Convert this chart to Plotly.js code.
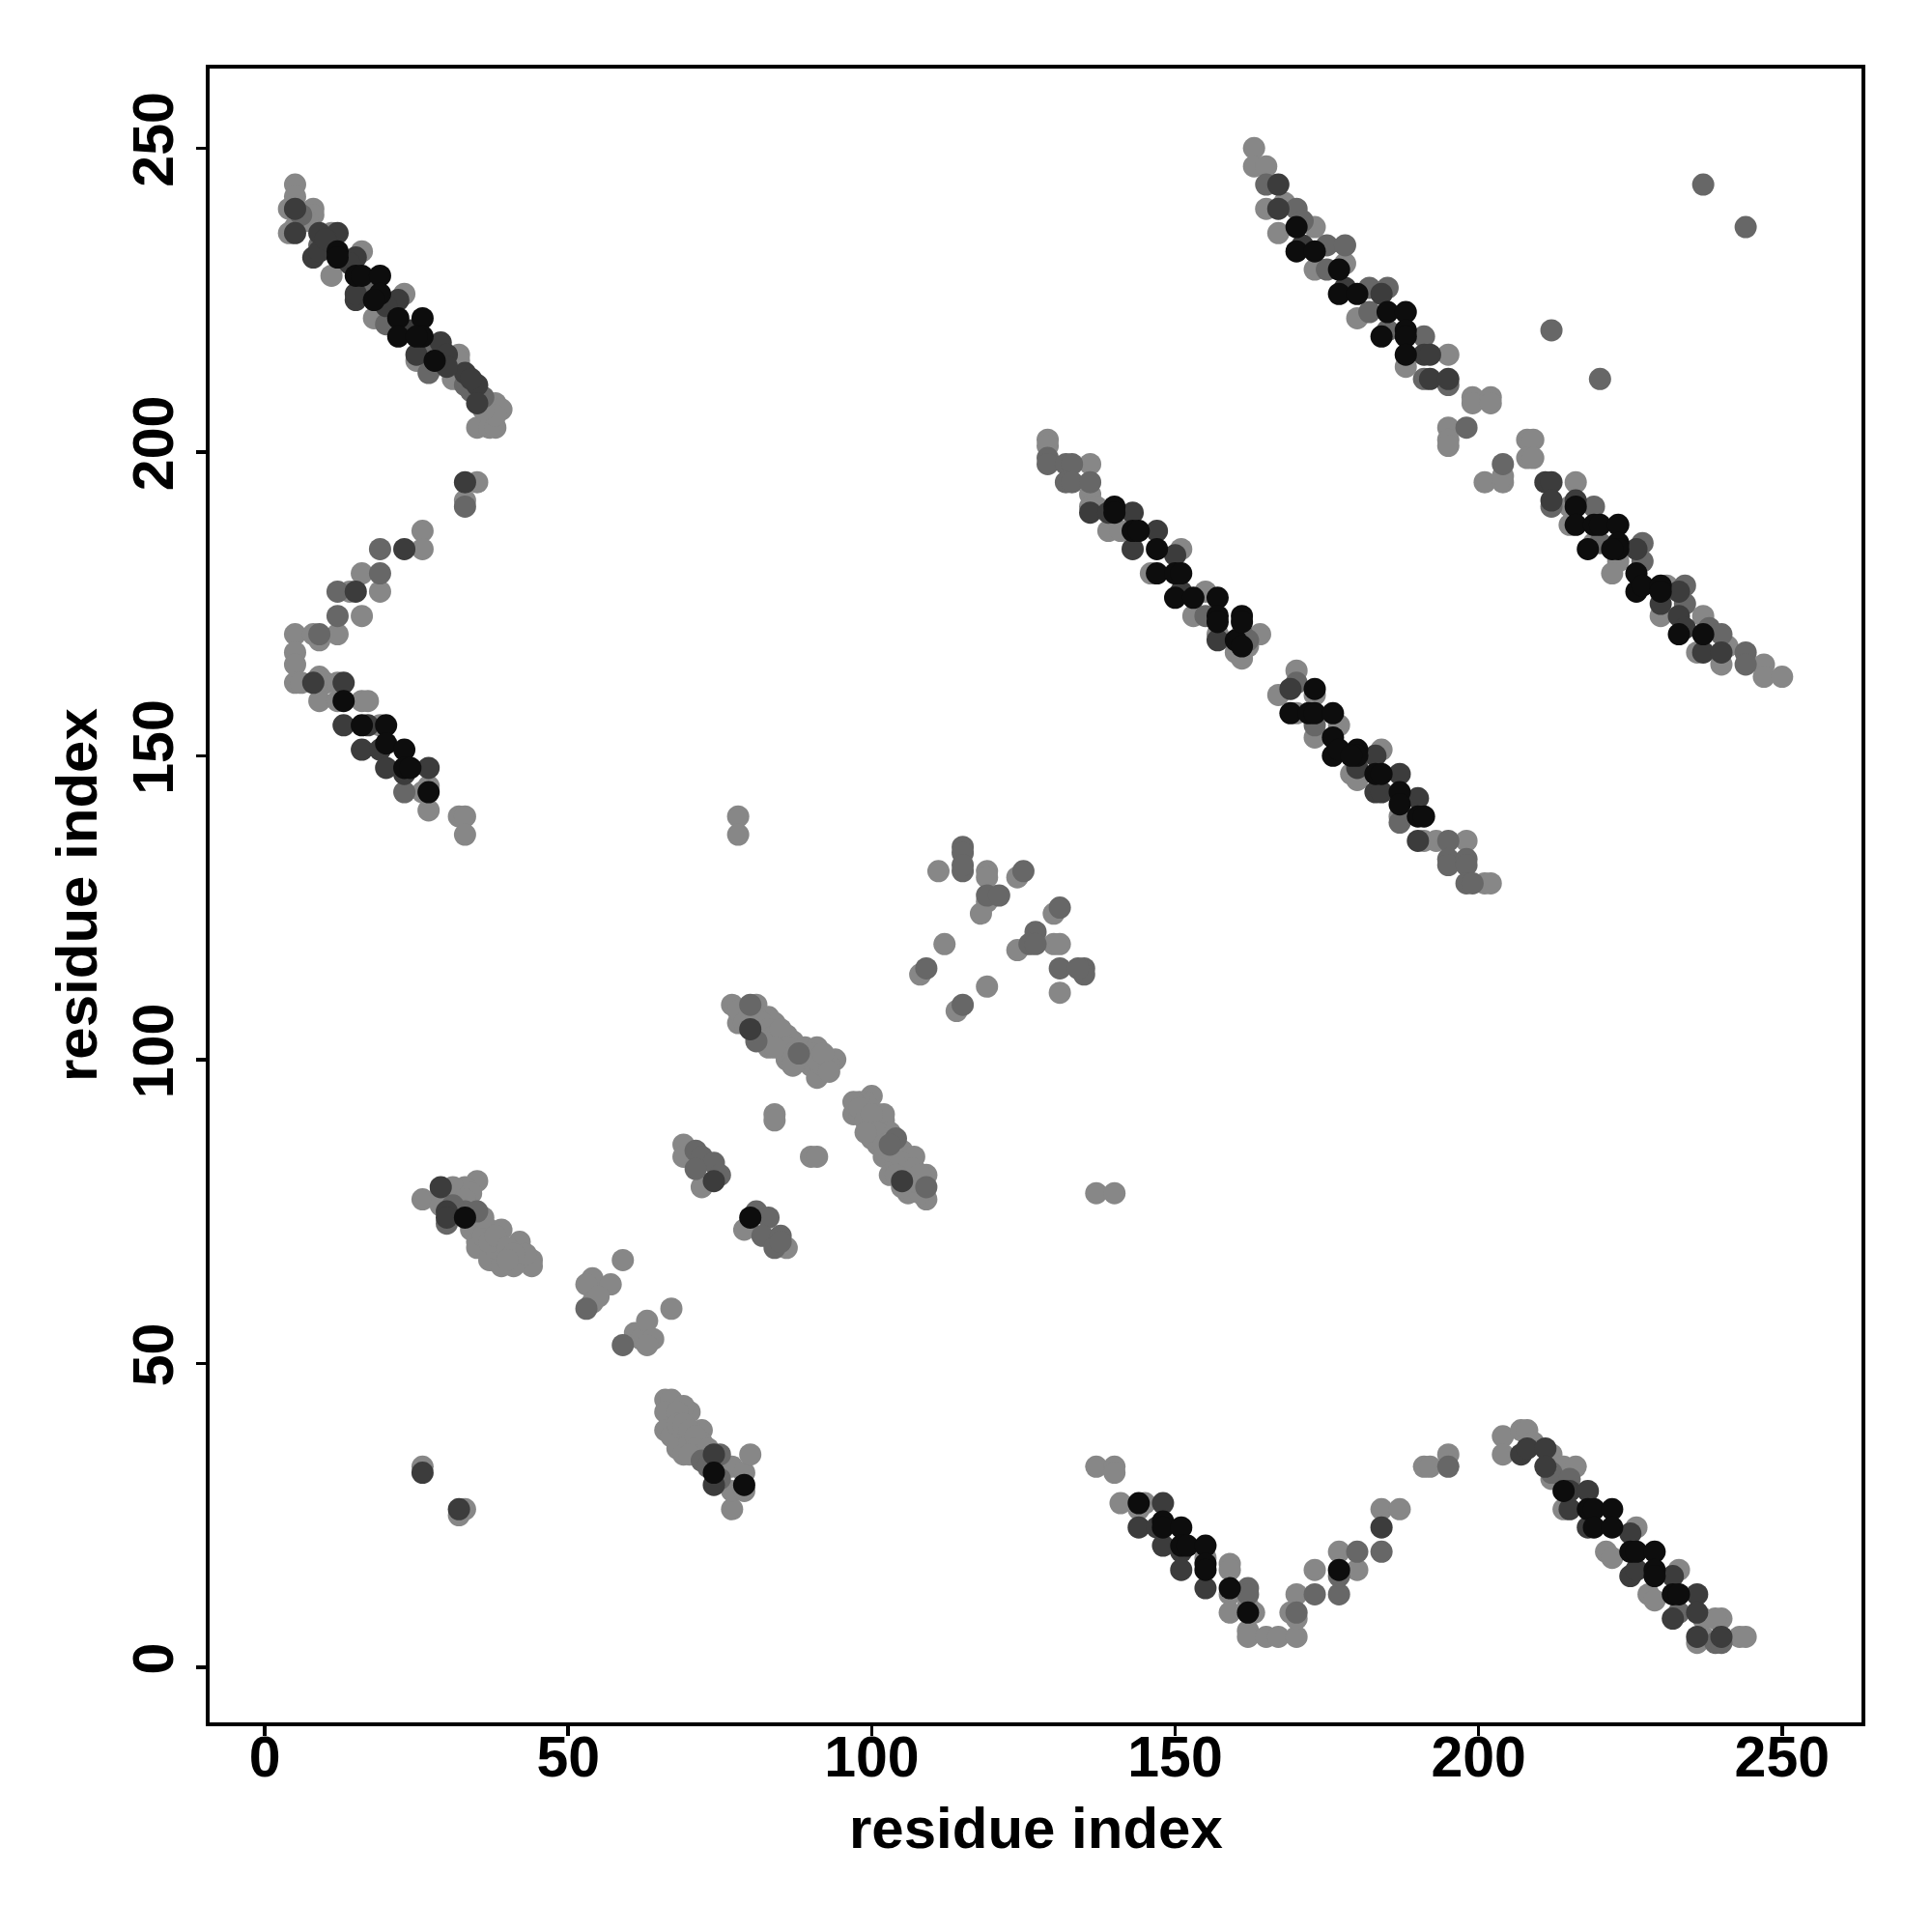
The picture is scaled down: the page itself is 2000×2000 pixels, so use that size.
<!DOCTYPE html>
<html>
<head>
<meta charset="utf-8">
<script src="https://cdn.plot.ly/plotly-3.0.1.min.js"></script>
<style>html,body{margin:0;padding:0;background:#fff;}#chart{width:2000px;height:2000px;}</style>
</head>
<body>
<div id="chart"></div>
<script>
// Contact map: residue index pairs, grouped by grey level
const axisTicks = [0, 50, 100, 150, 200, 250];
const axisTitle = "residue index";

const lightPts = [
 [5,244],[5,242],[4,240],[8,240],[8,239],[4,236],[5,237],[11,236],[16,233],[11,229],[23,226],[18,222],[25,215],[32,216],[32,215],[31,212],[38,208],[39,207],[35,204],[37,204],[38,204],[38,206],[7,238],[36,207],
 [35,195],[33,192],[26,187],[26,184],[16,180],[14,177],[19,177],[16,173],[5,170],[8,170],[12,170],[9,169],[5,167],[5,165],[5,162],[6,162],[9,163],[10,162],[12,162],[9,159],[12,159],[16,159],[17,159],[19,155],[26,144],[27,145],[27,141],[32,140],[33,140],[33,137],
 [163,250],[163,247],[165,247],[165,240],[168,241],[167,236],[173,237],[173,230],[178,231],[180,222],[188,214],[195,216],[199,209],[199,208],[202,209],[202,208],[195,204],[195,202],[195,201],[208,202],[209,202],[208,199],[209,199],[201,195],[204,195],[204,196],[216,195],
 [215,191],[215,188],[219,185],[223,182],[222,180],[231,178],[230,173],[237,173],[241,168],[236,167],[240,165],[247,165],[247,163],[250,163],
 [129,202],[129,201],[136,198],[136,193],[136,191],[137,191],[139,187],[141,187],[151,184],[146,180],[155,177],[153,173],[157,170],[164,170],[160,167],[162,168],[170,164],[167,160],[161,166],[170,157],[173,153],[177,155],[173,160],[184,151],[179,147],[180,146],[187,140],[191,136],[193,136],[198,136],[201,129],[202,129],
 [137,33],[140,33],[140,32],[141,27],[145,27],[144,26],[155,18],[159,17],[159,16],[159,12],[159,9],[163,9],[162,10],[162,6],[162,5],[165,5],[167,5],[170,5],[169,9],[170,8],[170,12],[173,16],[177,19],[180,16],[184,26],[187,26],[191,33],[192,33],[195,35],
 [204,38],[204,35],[207,39],[208,39],[209,37],[212,35],[212,31],[214,33],[216,33],[214,26],[226,23],[221,19],[222,18],[228,12],[229,11],[233,16],[237,8],[240,8],[239,8],[236,4],[237,5],[243,5],[244,5],
 [26,77],[29,78],[35,80],[33,79],[31,79],[34,78],[29,76],[34,72],[35,70],[35,69],[37,72],[39,72],[37,67],[39,66],[38,69],[42,70],[42,67],[44,67],[44,66],[41,66],[43,68],
 [32,76],[33,77],[36,73],[36,71],[37,70],[38,71],[40,69],[41,68],[40,67],[36,74],
 [54,64],[53,63],[57,63],[59,67],[54,60],[55,61],[61,55],[62,54],[63,57],[64,54],[67,59],[63,53],
 [69,86],[69,84],[72,79],[84,91],[84,90],[90,84],[91,84],[79,72],[86,69],
 [66,44],[67,44],[66,42],[70,42],[69,43],[66,39],[67,38],[68,36],[69,35],[70,37],[72,39],[72,37],[77,33],[77,26],[77,29],[79,32],[80,35],[79,29],
 [68,42],[68,40],[69,40],[70,39],[71,38],[71,36],[73,36],[70,35],
 [26,33],[33,26],[32,25],[137,78],[140,78],[78,140],[78,137],
 [77,109],[81,109],[78,106],[83,107],[84,106],[83,102],[86,104],[87,103],[88,102],[86,100],[89,102],[91,102],[90,99],[91,97],[92,99],[94,100],[93,99],[79,108],[80,107],[82,105],[85,103],[89,100],
 [78,108],[79,106],[80,106],[81,107],[82,106],[83,105],[84,104],[85,105],[86,102],[87,101],[88,100],[90,101],[91,100],[92,101],[93,98],[82,103],[84,102],[87,99],
 [100,94],[97,91],[99,93],[101,91],[102,90],[100,89],[100,87],[101,86],[102,84],[105,85],[106,84],[107,84],[103,81],[106,78],[109,81],[109,77],[108,78],[105,79],[98,93],[102,91],[103,88],[104,83],[107,80],[98,91],
 [97,93],[98,92],[99,90],[100,91],[101,88],[102,87],[103,85],[104,85],[105,83],[106,82],[107,82],[108,80],[106,80],[104,81],[102,86],[108,81],[99,88],
 [111,131],[119,131],[119,130],[124,130],[119,126],[118,124],[130,124],[112,119],[124,118],[130,119],[131,119],[108,114],[119,112],[131,111],[114,108]
];

const midPts = [
 [6,239],[9,234],[20,221],[27,213],[36,209],[34,210],[17,228],[27,217],[33,211],
 [19,184],[19,180],[12,177],[12,173],[9,170],[33,191],[23,144],
 [165,244],[170,240],[171,238],[175,234],[178,234],[175,230],[182,227],[185,227],[182,223],[185,220],[191,219],[195,211],[191,212],[198,204],[204,198],[212,220],[220,212],[237,244],[244,237],
 [212,191],[219,191],[220,185],[227,185],[227,182],[234,178],[234,175],[238,171],[240,170],[244,167],[244,165],
 [129,199],[129,198],[132,198],[133,198],[132,195],[133,195],[136,195],[155,173],[161,170],[162,169],[170,162],[173,155],[187,139],[195,136],[195,133],[195,132],[198,133],[198,132],[198,129],[199,129],
 [162,13],[162,12],[170,9],[173,12],[177,12],[177,15],[180,19],[184,19],[195,33],
 [212,32],[215,31],[233,9],[239,4],[240,4],
 [33,75],[35,75],[30,73],[31,76],[53,59],[59,53],
 [71,85],[72,84],[74,83],[75,81],[71,82],[81,75],[83,74],[82,71],[85,71],[84,69],[85,70],
 [72,34],[75,35],[75,31],[73,33],
 [80,109],[81,103],[88,101],[104,87],[109,79],[103,86],
 [115,135],[115,134],[115,131],[115,132],[125,131],[119,127],[121,127],[131,125],[127,121],[126,119],[127,119],[131,115],[135,115],[135,114],[134,115],[109,115],[115,109]
];

const darkPts = [
 [5,240],[5,236],[9,236],[12,236],[8,232],[9,233],[15,232],[15,225],[15,226],[22,225],[29,218],[25,216],[30,216],[33,213],[35,211],[34,212],[35,208],[10,235],[14,231],[20,224],[24,220],[30,214],
 [33,195],[23,184],[15,177],[8,162],[13,162],[13,155],[17,155],[16,151],[19,151],[20,148],[27,148],[23,147],
 [167,244],[167,240],[171,234],[178,227],[184,226],[191,216],[192,216],[192,212],[195,212],[211,195],[212,195],
 [212,192],[216,192],[226,184],[233,177],[230,175],[233,173],[234,171],[237,167],[240,167],
 [136,190],[139,190],[143,190],[147,187],[143,184],[150,183],[151,177],[157,169],[169,161],[183,150],[180,148],[187,147],[183,144],[184,144],[190,143],[190,136],
 [144,23],[147,23],[148,27],[148,20],[151,19],[151,16],[155,13],[184,23],
 [207,35],[208,36],[211,36],[211,33],[215,29],[218,29],[215,26],[218,23],[225,22],[225,15],[226,16],[232,15],[236,12],[232,8],[236,9],[236,5],[240,5],
 [29,79],[30,75],[30,74],[74,80],[74,35],[74,30],[26,32],[32,26],[80,105],[105,80]
];

const blackPts = [
 [12,233],[12,232],[15,229],[16,229],[19,229],[19,226],[18,225],[22,222],[26,222],[22,219],[26,219],[25,219],[28,215],
 [13,159],[16,155],[20,155],[20,152],[23,151],[23,148],[24,148],[27,144],
 [170,237],[170,233],[173,233],[177,230],[177,226],[180,226],[185,223],[188,223],[184,219],[188,220],[188,219],[188,216],
 [216,191],[216,188],[219,188],[220,188],[223,188],[218,184],[223,185],[223,184],[222,184],[226,180],[226,177],[227,178],[230,178],[230,177],[233,170],[237,170],
 [140,191],[140,190],[143,187],[144,187],[147,184],[147,180],[150,180],[151,180],[150,176],[153,176],[157,176],[157,173],[157,172],[161,173],[160,169],[173,161],[161,172],[161,168],[169,157],[172,157],[173,157],[176,157],[176,153],[176,150],[177,151],[180,151],[180,150],[179,150],[183,147],[184,147],[187,144],[187,142],[190,140],[191,140],
 [144,27],[148,24],[148,23],[151,23],[151,20],[152,20],[155,20],[155,17],[155,16],[159,13],[162,9],[177,16],
 [214,29],[218,26],[219,26],[222,26],[219,23],[222,23],[225,19],[226,19],[229,19],[229,16],[229,15],[232,12],[233,12],
 [33,74],[80,74],[74,32],[79,30]
];

const groups = [
  {pts: lightPts, color: "#878787"},
  {pts: midPts,   color: "#676767"},
  {pts: darkPts,  color: "#3c3c3c"},
  {pts: blackPts, color: "#0d0d0d"}
];

const traces = groups.map(g => ({
  type: "scatter",
  mode: "markers",
  x: g.pts.map(p => p[0]),
  y: g.pts.map(p => p[1]),
  marker: {size: 23, color: g.color, line: {width: 0}},
  hoverinfo: "x+y",
  showlegend: false
}));

const fontFam = "'Liberation Sans', Arial, Helvetica, sans-serif";
const axisCommon = {
  range: [-9.08, 263.08],
  tickmode: "array",
  tickvals: axisTicks,
  ticktext: axisTicks.map(String),
  ticks: "outside",
  ticklen: 10,
  tickwidth: 3.5,
  tickcolor: "#000",
  showline: true,
  linewidth: 4,
  linecolor: "#000",
  mirror: true,
  zeroline: false,
  showgrid: false,
  automargin: false,
  tickfont: {family: fontFam, size: 59, color: "#000", weight: "bold"}
};

const titleFont = {family: fontFam, size: 60, color: "#000", weight: "bold"};

const layout = {
  width: 2000,
  height: 2000,
  paper_bgcolor: "#fff",
  plot_bgcolor: "#fff",
  margin: {l: 217, r: 73, t: 71, b: 217, pad: 0},
  xaxis: Object.assign({}, axisCommon, {ticklabelstandoff: -29}),
  yaxis: Object.assign({}, axisCommon, {tickangle: -90, ticklabelstandoff: 0}),
  annotations: [
    {text: axisTitle, xref: "paper", yref: "paper", x: 0.5, y: -0.0637,
     xanchor: "center", yanchor: "middle", showarrow: false, font: titleFont},
    {text: axisTitle, xref: "paper", yref: "paper", x: -0.0807, y: 0.5,
     xanchor: "center", yanchor: "middle", textangle: -90, showarrow: false, font: titleFont}
  ]
};

Plotly.newPlot("chart", traces, layout, {displayModeBar: false, staticPlot: true});
</script>
</body>
</html>
